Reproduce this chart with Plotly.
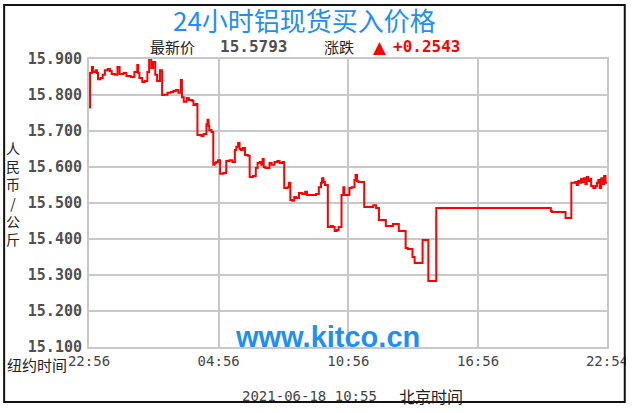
import plotly.graph_objects as go

# ---- data (New York time, minutes after 22:56) ----
minutes = [
    0, 3, 8, 11, 18, 22, 25, 32, 38, 44,
    52, 58, 63, 72, 79, 85, 96, 104, 116, 126,
    134, 137, 140, 148, 155, 162, 167, 173, 178, 184,
    189, 197, 203, 208, 218, 227, 234, 241, 248, 255,
    258, 263, 271, 277, 282, 287, 290, 296, 301, 312,
    318, 326, 329, 332, 334, 340, 345, 349, 353, 358,
    364, 373, 381, 390, 398, 405, 409, 414, 418, 422,
    427, 433, 441, 446, 455, 463, 468, 474, 478, 482,
    485, 490, 501, 507, 515, 523, 529, 537, 542, 551,
    555, 559, 564, 570, 575, 583, 592, 600, 605, 622,
    630, 638, 644, 647, 651, 655, 663, 671, 677, 682,
    688, 693, 701, 706, 709, 723, 729, 737, 740, 744,
    748, 764, 789, 797, 805, 824, 844, 860, 879, 885,
    898, 904, 926, 942, 964, 1282, 1285, 1323, 1339, 1350,
    1354, 1358, 1362, 1366, 1370, 1374, 1378, 1382, 1386, 1390,
    1394, 1400, 1406, 1410, 1414, 1418, 1422, 1426, 1430, 1434,
    1438,
]
prices = [
    15.765, 15.861, 15.878, 15.864, 15.869, 15.861, 15.844, 15.847, 15.856, 15.869,
    15.872, 15.867, 15.858, 15.856, 15.878, 15.858, 15.861, 15.853, 15.850, 15.864,
    15.883, 15.861, 15.847, 15.836, 15.839, 15.864, 15.900, 15.875, 15.892, 15.856,
    15.839, 15.869, 15.800, 15.801, 15.806, 15.808, 15.811, 15.814, 15.806, 15.842,
    15.794, 15.781, 15.792, 15.786, 15.786, 15.783, 15.772, 15.775, 15.689, 15.686,
    15.692, 15.719, 15.731, 15.714, 15.703, 15.697, 15.606, 15.611, 15.614, 15.619,
    15.581, 15.583, 15.617, 15.619, 15.614, 15.647, 15.656, 15.667, 15.650, 15.647,
    15.653, 15.633, 15.631, 15.572, 15.575, 15.597, 15.611, 15.614, 15.606, 15.622,
    15.600, 15.597, 15.611, 15.606, 15.614, 15.617, 15.611, 15.614, 15.542, 15.544,
    15.556, 15.508, 15.506, 15.517, 15.514, 15.528, 15.525, 15.531, 15.522, 15.522,
    15.525, 15.544, 15.556, 15.569, 15.558, 15.550, 15.433, 15.436, 15.433, 15.422,
    15.425, 15.433, 15.522, 15.544, 15.522, 15.542, 15.544, 15.564, 15.578, 15.561,
    15.558, 15.489, 15.494, 15.486, 15.453, 15.436, 15.442, 15.422, 15.375, 15.372,
    15.350, 15.333, 15.397, 15.283, 15.486, 15.478, 15.475, 15.458, 15.556, 15.558,
    15.550, 15.561, 15.556, 15.567, 15.558, 15.569, 15.553, 15.572, 15.561, 15.567,
    15.547, 15.542, 15.547, 15.556, 15.564, 15.542, 15.569, 15.553, 15.575, 15.556,
    15.556,
]
x_tick_vals = [0, 360, 720, 1080, 1438]
x_tick_labels = ["22:56", "04:56", "10:56", "16:56", "22:54"]
y_tick_vals = [15.1, 15.2, 15.3, 15.4, 15.5, 15.6, 15.7, 15.8, 15.9]

title_text = "24小时铝现货买入价格"
latest_label = "最新价"
latest_value = "15.5793"
change_label = "涨跌"
change_value = "+0.2543"
unit_text = "人<br>民<br>币<br>/<br>公<br>斤"
date_text = "2021-06-18 10:55"

# ---- layout helpers (pixel -> paper) ----
L, R, T, B = 89, 614, 59, 347
def px(x):
    return (x - L) / (R - L)
def py(y):
    return (B - y) / (B - T)

CJK = "Noto Sans CJK SC"
MONO = "DejaVu Sans Mono"

fig = go.Figure(
    go.Scatter(
        x=minutes, y=prices, mode="lines",
        line=dict(color="#ff0000", width=2, shape="hv"),
        hoverinfo="skip",
    )
)

grid = "#c8c8c8"
fig.update_layout(
    width=640, height=413,
    margin=dict(l=L, r=640 - R, t=T, b=413 - B),
    paper_bgcolor="white", plot_bgcolor="white",
    showlegend=False,
    xaxis=dict(
        range=[0, 1438], tickvals=x_tick_vals, ticktext=x_tick_labels,
        showgrid=True, gridcolor=grid, gridwidth=2,
        showline=True, linecolor=grid, linewidth=2, mirror=True,
        zeroline=False, ticks="",
        tickfont=dict(family=MONO, size=14, color="#444444"),
    ),
    yaxis=dict(
        range=[15.1, 15.9], tickvals=y_tick_vals, tickformat=".3f",
        showgrid=True, gridcolor=grid, gridwidth=2,
        showline=True, linecolor=grid, linewidth=2, mirror=True,
        zeroline=False, ticks="outside", ticklen=2, tickcolor="rgba(0,0,0,0)",
        tickfont=dict(family=MONO, size=15, color="#505050", weight="bold"),
    ),
)

ann = []
def add(text, x, y, size, color="#222222", family=CJK, xanchor="left", weight="normal"):
    ann.append(dict(
        text=text, x=px(x), y=py(y), xref="paper", yref="paper",
        xanchor=xanchor, yanchor="middle", showarrow=False, borderpad=0,
        font=dict(family=family, size=size, color=color, weight=weight),
    ))

add(title_text, 307, 19, 26, color="#1e8ff5", xanchor="center")
add(latest_label, 150, 47, 15)
add(latest_value, 221, 47, 16, color="#505050", family=MONO, weight="bold")
add(change_label, 326, 47, 15)
add("▲", 376, 47, 17, color="#ff0000", family="DejaVu Sans")
add(change_value, 396, 47, 16, color="#ff0000", family=MONO, weight="bold")
add(unit_text, 12, 193, 14, xanchor="center")
add("纽约时间", 68, 364, 15, xanchor="right")
add(date_text, 243, 396, 14, color="#444444", family=MONO)
add("北京时间", 402, 396, 16)
add("www.kitco.cn", 331, 337, 29, color="#1e8ff5", family="Liberation Sans",
    xanchor="center", weight="bold")
fig.update_layout(annotations=ann)

fig.update_layout(shapes=[
    dict(type="rect", xref="paper", yref="paper", layer="above",
         x0=px(633), x1=px(660), y0=py(-10), y1=py(430),
         fillcolor="white", line=dict(width=0)),
    dict(type="rect", xref="paper", yref="paper", layer="above",
         x0=px(3), x1=px(632), y0=py(5), y1=py(402),
         line=dict(color="#111111", width=2), fillcolor="rgba(0,0,0,0)"),
])

fig.write_html("out.html", config={"displayModeBar": False},
               post_script="document.body.style.margin='0px';")
